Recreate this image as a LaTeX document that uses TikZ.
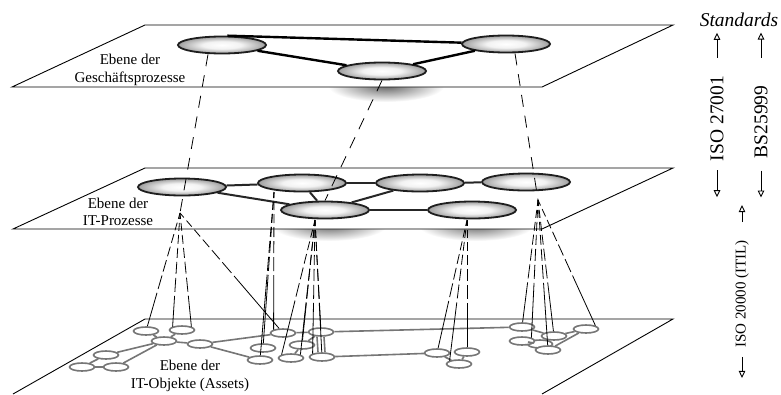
\documentclass[tikz,border=0pt]{standalone}
\usepackage{fontspec}
\setmainfont{Liberation Serif}
\usetikzlibrary{arrows.meta,shapes.geometric}
\pgfdeclarelayer{background}
\pgfsetlayers{background,main}
\pgfdeclareradialshading{oval}{\pgfpoint{0bp}{0bp}}{color(0bp)=(white); color(11bp)=(black!5); color(25bp)=(black!38); color(50bp)=(black!38)}
\definecolor{ovalrim}{HTML}{1E1E1E}
\definecolor{assetgray}{HTML}{767676}
\tikzset{plane/.style={draw=black,line width=0.9pt,fill=white},proc/.style={ellipse,draw=ovalrim,line width=1.8pt,inner sep=0pt,minimum width=88pt,minimum height=17pt,shading=oval},asset/.style={ellipse,draw=assetgray,line width=1.6pt,fill=white,inner sep=0pt,minimum width=25pt,minimum height=8pt},bizline/.style={line width=2.4pt},itline/.style={line width=2pt,draw=black!85},assetline/.style={line width=1.6pt,draw=assetgray},bizmap/.style={line width=0.8pt,dash pattern=on 12pt off 9pt},itmap/.style={line width=0.8pt,dash pattern=on 6pt off 4pt on 8pt off 4pt on 9pt off 4pt on 10pt off 4pt on 12pt off 4pt on 14pt off 4pt on 300pt off 1pt},lab/.style={font=\fontsize{15}{17.5}\selectfont,align=center,inner sep=0pt},stdlab/.style={font=\fontsize{19.5}{22}\selectfont,rotate=90,inner sep=0pt},stdarrow/.style={-{Triangle[open,length=7pt,width=6.5pt]},line width=0.9pt}}

\begin{document}
\begin{tikzpicture}[x=1pt,y=-1pt]
\useasboundingbox (0,0) rectangle (781,394);
% layers
\draw[plane] (12,87)--(542,87)--(673,25)--(145,25)--cycle;
\draw[plane] (13,229)--(542,229)--(673,168)--(145,168)--cycle;
\fill[white] (13,394)--(145,319)--(673,319)--(542,394)--cycle;
\draw[line width=0.9pt] (13,394)--(145,319)--(673,319)--(542,394);
\node[lab] (gplab) at (130,70) {Ebene der\\Geschäftsprozesse};
\node[lab] (itlab) at (118,212) {Ebene der\\IT-Prozesse};
\node[lab] (assetlab) at (190,376) {Ebene der\\IT-Objekte (Assets)};
% IT objects
\node[asset] (obj20) at (540,344) {};
\node[asset] (obj1) at (146,331) {};\node[asset] (obj2) at (182,330) {};\node[asset] (obj3) at (164,341) {};
\node[asset] (obj4) at (200,344) {};\node[asset] (obj5) at (106,355) {};\node[asset] (obj6) at (82,367) {};
\node[asset] (obj7) at (116,367) {};\node[asset] (obj8) at (263,348) {};\node[asset] (obj9) at (260,360) {};
\node[asset] (obj10) at (283,333) {};\node[asset] (obj11) at (302,345) {};\node[asset] (obj12) at (291,358) {};
\node[asset] (obj13) at (321,332) {};\node[asset] (obj14) at (322,357) {};\node[asset] (obj15) at (437,353) {};
\node[asset] (obj16) at (467,352) {};\node[asset] (obj17) at (459,364) {};\node[asset] (obj18) at (522,327) {};
\node[asset] (obj19) at (522,341) {};\node[asset] (obj21) at (554,336) {};\node[asset] (obj22) at (548,350) {};
\node[asset] (obj23) at (586,329) {};
\draw[assetline] (obj1)--(obj3);\draw[assetline] (obj2)--(obj3);\draw[assetline] (obj3)--(obj4);
\draw[assetline] (obj3)--(obj5);\draw[assetline] (obj3)--(obj7);\draw[assetline] (obj5)--(obj6);
\draw[assetline] (obj6)--(obj7);\draw[assetline] (obj4)--(obj10);\draw[assetline] (obj4)--(obj9);
\draw[assetline] (obj10)--(obj13);\draw[assetline] (obj11)--(obj13);\draw[assetline] (obj11)--(obj12);
\draw[assetline] ([xshift=-4pt]obj13.south)--([xshift=-4pt]obj14.north);
\draw[assetline] ([xshift=3pt]obj13.south)--([xshift=3pt]obj14.north);
\draw[assetline] (obj13)--(obj18);\draw[assetline] (obj14)--(obj15);\draw[assetline] (obj15)--(obj17);
\draw[assetline] (obj16)--(obj17);\draw[assetline] (obj18)--(obj21);\draw[assetline] (obj21)--(obj23);
\draw[assetline] (obj23)--(obj22);\draw[assetline] (obj19)--(obj20);
% IT processes
\node[proc] (itp1) at (182,187) {};\node[proc] (itp2) at (302,183) {};\node[proc] (itp3) at (420,183) {};
\node[proc] (itp4) at (526,182) {};\node[proc] (itp5) at (325,210) {};\node[proc] (itp6) at (472,210) {};
\draw[itline] (itp1)--(itp2);\draw[itline] (itp1)--(itp5);\draw[itline] (itp2)--(itp5);
\draw[itline] (itp2)--(itp3);\draw[itline] (itp3)--(itp5);\draw[itline] (itp3)--(itp4);
\draw[itline] (itp5)--(itp6);
% business processes
\node[proc] (gp1) at (222,45) {};\node[proc] (gp2) at (382,71) {};\node[proc] (gp3) at (506,44) {};
\draw[bizline] (gp1.60)--(gp3);\draw[bizline] (gp1)--(gp2);\draw[bizline] (gp2)--(gp3);
% shadows behind the layers
\begin{pgfonlayer}{background}
\fill[white] (0,0) rectangle (781,394);
\foreach \n in {gp1,gp2,gp3,itp1,itp2,itp3,itp4,itp5,itp6}
  \shade[inner color=black!60,outer color=white] ([xshift=4pt,yshift=-15pt]\n.center) ellipse (58pt and 16pt);
\end{pgfonlayer}
% mappings between the layers
\coordinate (itp1-foot) at (180,213);\coordinate (itp2-foot) at (274,192);\coordinate (itp4-foot) at (538,200);
\coordinate (itp5-foot) at (315,220);\coordinate (itp6-foot) at (467,220);
\draw[bizmap] ([xshift=-14pt]gp1.south)--(itp1-foot);
\draw[bizmap] (gp2.south)--(itp5.north);
\draw[bizmap] ([xshift=9pt]gp3.south)--(itp4-foot);
\draw[itmap] (itp1-foot)--(obj1);\draw[itmap] (itp1-foot)--(obj2.north west);
\draw[itmap] (itp1-foot)--(obj2.north east);\draw[itmap] (itp1-foot)--(obj10);
\draw[itmap] (itp2-foot)--(obj9);\draw[itmap] (itp2-foot)--(obj8);\draw[itmap] (itp2-foot)--(obj10.north west);
\draw[itmap] (itp5-foot)--(obj12.north west);\draw[itmap] (itp5-foot)--(obj11);
\draw[itmap] (itp5-foot)--(obj12.north east);\draw[itmap] (itp5-foot)--(obj14.north west);
\draw[itmap] (itp5-foot)--(obj13);\draw[itmap] (itp5-foot)--(obj14);
\draw[itmap] (itp6-foot)--(obj15);\draw[itmap] (itp6-foot)--(obj16);\draw[itmap] (itp6-foot)--(obj17.north west);
\draw[itmap] (itp4-foot)--(obj18);\draw[itmap] (itp4-foot)--(obj19.north east);\draw[itmap] (itp4-foot)--(obj22);
\draw[itmap] (itp4-foot)--(obj21);\draw[itmap] (itp4-foot)--(obj23.north east);
% standards
\node[font=\fontsize{19.5}{22}\selectfont\itshape,inner sep=0pt] (std) at (739,20) {Standards};
\node[stdlab] (iso27) at (717,118.5) {ISO 27001};
\node[stdlab] (bs) at (761,122) {BS25999};
\node[stdlab,font=\fontsize{15}{18}\selectfont] (itil) at (742,294) {ISO 20000 (ITIL)};
\draw[stdarrow] (iso27.east) ++(0,-18) -- ++(0,-25);\draw[stdarrow] (bs.east) ++(0,-28) -- ++(0,-25);
\draw[stdarrow] (iso27.west) ++(0,9) -- ++(0,27);\draw[stdarrow] (bs.west) ++(0,12) -- ++(0,27);
\draw[stdarrow] (itil.east) ++(0,-18) -- ++(0,-17);\draw[stdarrow] (itil.west) ++(0,9) -- ++(0,21);
\end{tikzpicture}
\end{document}
